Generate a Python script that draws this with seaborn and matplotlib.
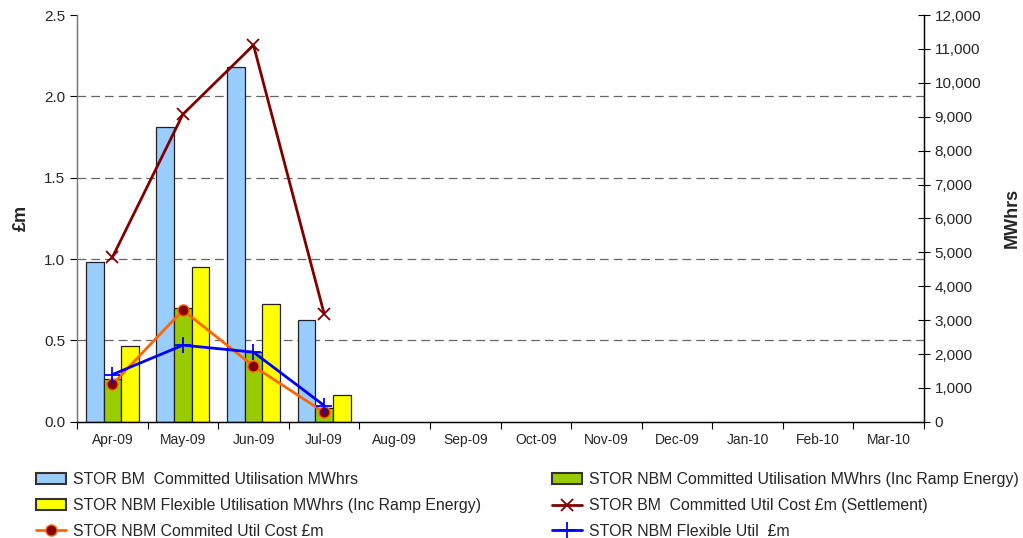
import numpy as np
import pandas as pd
import matplotlib
matplotlib.use("Agg")
import matplotlib.pyplot as plt
from matplotlib.patches import Patch
from matplotlib.lines import Line2D
import seaborn as sns

sns.set_style("white")
plt.rcParams['font.family'] = ['Liberation Sans', 'DejaVu Sans']

months = ["Apr-09", "May-09", "Jun-09", "Jul-09", "Aug-09", "Sep-09",
          "Oct-09", "Nov-09", "Dec-09", "Jan-10", "Feb-10", "Mar-10"]
data_months = ["Apr-09", "May-09", "Jun-09", "Jul-09"]

# MWhrs (right axis)
bm_committed_mwh = [4700, 8700, 10460, 2990]
nbm_committed_mwh = [1260, 3350, 2065, 395]
nbm_flexible_mwh = [2240, 4565, 3465, 780]

# £m (left axis)
bm_cost = [1.01, 1.89, 2.315, 0.665]
nbm_committed_cost = [0.23, 0.686, 0.342, 0.058]
nbm_flexible_cost = [0.29, 0.471, 0.428, 0.10]

bar_names = ["STOR BM  Committed Utilisation MWhrs",
             "STOR NBM Committed Utilisation MWhrs (Inc Ramp Energy)",
             "STOR NBM Flexible Utilisation MWhrs (Inc Ramp Energy)"]
line_names = ["STOR BM  Committed Util Cost £m (Settlement)",
              "STOR NBM Commited Util Cost £m",
              "STOR NBM Flexible Util  £m"]

bar_colors = ["#99CCFF", "#99CC00", "#FFFF00"]

bars_df = pd.DataFrame({
    "month": data_months * 3,
    "series": sum([[n] * 4 for n in bar_names], []),
    "value": bm_committed_mwh + nbm_committed_mwh + nbm_flexible_mwh,
})

fig = plt.figure(figsize=(10.23, 5.38), dpi=100)
ax_b = fig.add_axes([0.0753, 0.216, 0.828, 0.756])
ax_l = ax_b.twinx()

sns.barplot(data=bars_df, x="month", y="value", hue="series", order=months,
            hue_order=bar_names, palette=bar_colors, saturation=1, ax=ax_b, width=0.75,
            edgecolor="#222222", linewidth=0.9, legend=False, zorder=2)

line_specs = [
    (bm_cost, dict(color="#800000", marker="x", markersize=9, markeredgewidth=1.3, linewidth=2)),
    (nbm_committed_cost, dict(color="#FF6600", marker="o", markersize=8, markerfacecolor="#800000",
                              markeredgecolor="#FF6600", markeredgewidth=1, linewidth=2)),
    (nbm_flexible_cost, dict(color="#0000FF", marker="+", markersize=11, markeredgewidth=1.3, linewidth=2)),
]
for vals, kw in line_specs:
    df = pd.DataFrame({"month": data_months, "value": vals})
    sns.pointplot(data=df, x="month", y="value", order=months, ax=ax_l,
                  errorbar=None, linestyles="-", **kw)

# axes limits
ax_b.set_xlim(-0.5, len(months) - 0.5)
ax_l.set_xlim(-0.5, len(months) - 0.5)
ax_b.set_ylim(0, 12000)
ax_l.set_ylim(0, 2.5)

# Right axis (MWhrs) from bar axes
ax_b.yaxis.tick_right()
ax_b.yaxis.set_label_position("right")
ax_b.set_yticks(np.arange(0, 12001, 1000))
ax_b.set_yticklabels([f"{int(v):,}" for v in np.arange(0, 12001, 1000)], fontsize=11)
ax_b.tick_params(axis="y", which="major", direction="inout", length=8, width=0.8, color="black", right=True, left=False)
ax_b.set_ylabel("MWhrs", fontsize=13, fontweight="bold", labelpad=16)

# gridlines at left-axis 0.5 steps
ax_b.set_yticks(np.arange(0.5, 2.51, 0.5) * 4800, minor=True)
ax_b.tick_params(axis="y", which="minor", length=0)
ax_b.grid(axis="y", which="minor", linestyle=(0, (7, 4)), color="#666666", linewidth=0.9, zorder=0)
ax_b.set_axisbelow(True)

# x axis: ticks at boundaries, labels at centres
ax_b.set_xticks(np.arange(-0.5, len(months), 1))
ax_b.set_xticklabels([])
ax_b.set_xticks(np.arange(len(months)), minor=True)
ax_b.set_xticklabels(months, minor=True, fontsize=10)
ax_b.tick_params(axis="x", which="major", direction="out", length=5, width=0.8, color="black", bottom=True)
ax_b.tick_params(axis="x", which="minor", length=0, pad=8)
ax_b.set_xlabel("")

# Left axis (£m) from line axes
ax_l.yaxis.tick_left()
ax_l.yaxis.set_label_position("left")
ax_l.set_yticks(np.arange(0, 2.51, 0.5))
ax_l.set_yticklabels([f"{v:.1f}" for v in np.arange(0, 2.51, 0.5)], fontsize=11)
ax_l.tick_params(axis="y", direction="out", length=5, width=0.8, color="black", left=True, right=False)
ax_l.set_ylabel("£m", fontsize=13, fontweight="bold", labelpad=10)

for a in (ax_b, ax_l):
    a.spines["top"].set_visible(False)
    for s in ("left", "right", "bottom"):
        a.spines[s].set_color("black")
        a.spines[s].set_linewidth(0.9)
ax_l.spines["left"].set_color("#777777")
ax_b.spines["left"].set_color("#777777")

# Legends
bar_handles = [Patch(facecolor=c, edgecolor="#333333", linewidth=1.5) for c in bar_colors]
line_handles = [Line2D([], [], **kw) for _, kw in line_specs]

col1_h = [bar_handles[0], bar_handles[2], line_handles[1]]
col1_l = [bar_names[0], bar_names[2], line_names[1]]
col2_h = [bar_handles[1], line_handles[0], line_handles[2]]
col2_l = [bar_names[1], line_names[0], line_names[2]]

leg_kw = dict(loc="upper left", frameon=False, fontsize=11.4, labelspacing=0.68,
              handlelength=1.9, handletextpad=0.45, borderpad=0, borderaxespad=0)
fig.legend(col1_h, col1_l, bbox_to_anchor=(0.035, 0.122), **leg_kw)
fig.legend(col2_h, col2_l, bbox_to_anchor=(0.5396, 0.122), **leg_kw)

fig.savefig("out.png", dpi=100)
